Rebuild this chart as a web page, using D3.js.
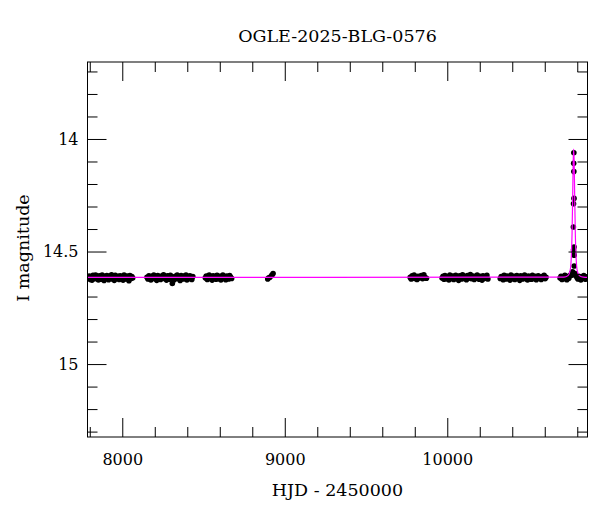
<!DOCTYPE html>
<html><head><meta charset="utf-8">
<script src="https://cdn.jsdelivr.net/npm/d3@7"></script>
<style>
html,body{margin:0;padding:0;background:#fff;}
svg{display:block;}
text{font-family:"DejaVu Serif",serif;fill:#000;}
</style></head>
<body>
<svg id="chart" width="600" height="512"></svg>
<script>
// ---- Data (HJD - 2450000, I magnitude) ----
const title = "OGLE-2025-BLG-0576";
const xLabel = "HJD - 2450000";
const yLabel = "I magnitude";
const xMajorTicks = [8000, 9000, 10000];
const yMajorTicks = [14, 14.5, 15];

const s1T = [7792,7797,7803,7808,7814,7820,7825,7831,7836,7842,7848,7853,7859,7865,7870,7876,7882,7888,7893,7899,7905,7911,7916,7922,7928,7934,7940,7946,7951,7957,7963,7969,7975,7981,7987,7993,7999,8005,8011,8017,8023,8029,8035,8041,8047,8053,8059,8064];
const s1M = [14.618,14.609,14.624,14.612,14.627,14.606,14.616,14.621,14.604,14.619,14.611,14.626,14.608,14.617,14.623,14.605,14.614,14.629,14.61,14.62,14.607,14.615,14.625,14.609,14.618,14.603,14.622,14.613,14.628,14.606,14.616,14.62,14.61,14.624,14.608,14.619,14.612,14.627,14.605,14.617,14.622,14.609,14.614,14.63,14.607,14.62,14.611,14.618];

const s2T = [8152,8158,8164,8170,8176,8182,8188,8194,8200,8206,8212,8218,8224,8230,8236,8242,8248,8254,8260,8266,8272,8278,8284,8290,8296,8302,8308,8314,8320,8326,8332,8338,8344,8350,8356,8362,8368,8374,8380,8386,8392,8398,8404,8410,8416,8422,8428,8434];
const s2M = [14.614,14.622,14.608,14.619,14.626,14.61,14.616,14.605,14.621,14.613,14.628,14.607,14.618,14.611,14.624,14.609,14.617,14.603,14.62,14.615,14.627,14.608,14.612,14.623,14.606,14.619,14.642,14.614,14.625,14.61,14.617,14.604,14.621,14.612,14.629,14.607,14.616,14.622,14.609,14.618,14.605,14.626,14.613,14.62,14.608,14.617,14.624,14.611];

const s3T = [8511,8517,8523,8529,8535,8541,8547,8553,8559,8565,8571,8577,8583,8589,8595,8601,8607,8613,8619,8625,8631,8637,8643,8649,8655,8661,8667,8673];
const s3M = [14.617,14.609,14.624,14.612,14.604,14.62,14.614,14.627,14.608,14.618,14.611,14.623,14.606,14.616,14.621,14.61,14.626,14.613,14.605,14.619,14.612,14.625,14.609,14.617,14.622,14.607,14.615,14.62];

const s4T = [8895,8900,8908,8920,8928];
const s4M = [14.622,14.618,14.614,14.606,14.598];

const s5T = [9772,9778,9784,9790,9796,9802,9808,9814,9820,9826,9832,9840,9848,9856,9864,9872];
const s5M = [14.615,14.622,14.608,14.617,14.605,14.62,14.612,14.624,14.61,14.618,14.614,14.607,14.621,14.603,14.616,14.619];

const s6T = [9968,9974,9980,9986,9992,9998,10004,10010,10016,10022,10028,10034,10040,10046,10052,10058,10064,10070,10076,10082,10088,10094,10100,10106,10112,10118,10124,10130,10136,10142,10148,10154,10160,10166,10172,10178,10184,10190,10196,10202,10208,10214,10220,10226,10232,10238,10244,10250];
const s6M = [14.618,14.61,14.623,14.607,14.615,14.621,14.612,14.626,14.604,14.617,14.62,14.609,14.624,14.613,14.606,14.619,14.615,14.628,14.608,14.616,14.622,14.603,14.614,14.62,14.611,14.625,14.607,14.618,14.613,14.602,14.621,14.616,14.609,14.624,14.612,14.619,14.605,14.617,14.623,14.61,14.614,14.627,14.608,14.62,14.612,14.618,14.606,14.622];

const s7T = [10326,10332,10338,10344,10350,10356,10362,10368,10374,10380,10386,10392,10398,10404,10410,10416,10422,10428,10434,10440,10446,10452,10458,10464,10470,10476,10482,10488,10494,10500,10506,10512,10518,10524,10530,10536,10542,10548,10554,10560,10566,10572,10578,10584,10590,10596,10602,10608];
const s7M = [14.62,14.611,14.617,14.625,14.606,14.615,14.622,14.609,14.618,14.613,14.627,14.604,14.616,14.621,14.61,14.624,14.612,14.607,14.619,14.615,14.628,14.608,14.617,14.622,14.611,14.605,14.62,14.614,14.626,14.609,14.618,14.612,14.623,14.606,14.616,14.621,14.61,14.625,14.613,14.608,14.619,14.615,14.624,14.611,14.617,14.606,14.621,14.614];

const s8T = [10694,10700,10706,10712,10718,10724,10730,10736,10742,10748,10754,10760,10766,10771,10786,10792,10798,10804,10810,10816,10822,10828,10834,10840,10846,10852,10858];
const s8M = [14.618,14.61,14.624,14.613,14.621,14.606,14.617,14.625,14.611,14.619,14.608,14.603,14.596,14.59,14.598,14.606,14.615,14.622,14.61,14.618,14.626,14.612,14.62,14.607,14.616,14.623,14.613];

const peakT = [10779,10778,10779,10780,10777,10776,10780,10777,10781,10781,10772,10768];
const peakM = [14.061,14.108,14.145,14.264,14.288,14.391,14.48,14.493,14.516,14.564,14.595,14.605];

// model curve
const modelT = [7786,10718,10743,10756,10763,10768,10772,10775,10778,10781,10784,10788,10793,10800,10813,10838,10863];
const modelM = [14.615,14.614,14.607,14.585,14.53,14.42,14.25,14.10,14.045,14.10,14.25,14.42,14.53,14.585,14.607,14.614,14.615];

// ---- Build ----
const seasonsT = [s1T,s2T,s3T,s4T,s5T,s6T,s7T,s8T,peakT];
const seasonsM = [s1M,s2M,s3M,s4M,s5M,s6M,s7M,s8M,peakM];
const points = [];
seasonsT.forEach((ts,i)=>ts.forEach((t,j)=>points.push({t, m: seasonsM[i][j]})));
const model = modelT.map((t,i)=>({t, m: modelM[i]}));

const L = 87.5, R = 587.5, T = 62, B = 437;
const svg = d3.select("#chart");
const x = d3.scaleLinear().domain([7786, 10863]).range([L, R]);
const y = d3.scaleLinear().domain([13.658, 15.324]).range([T, B]);

svg.append("clipPath").attr("id","clip").append("rect")
  .attr("x",L).attr("y",T).attr("width",R-L).attr("height",B-T);

const plot = svg.append("g").attr("clip-path","url(#clip)");
plot.selectAll("circle").data(points).join("circle")
  .attr("cx", d=>x(d.t)).attr("cy", d=>y(d.m)).attr("r", 2.8).attr("fill","#000");

plot.append("path").datum(model)
  .attr("d", d3.line().x(d=>x(d.t)).y(d=>y(d.m)).curve(d3.curveMonotoneX))
  .attr("fill","none").attr("stroke","#ff00ff").attr("stroke-width",1.2);

// axes
const xMinor = d3.range(7800, 10864, 200).filter(v=>!xMajorTicks.includes(v));
const yMinor = d3.range(137, 154).map(v=>v/10).filter(v=>!yMajorTicks.includes(v));
const fmt = d=>String(d);
function styleAxis(g){ g.select(".domain").remove(); g.selectAll("line").attr("stroke","#000"); g.selectAll("text").attr("font-family","DejaVu Serif").attr("font-size",16); }

svg.append("g").attr("transform",`translate(0,${B})`).call(d3.axisBottom(x).tickValues(xMinor).tickSize(-10).tickFormat("")).call(styleAxis);
svg.append("g").attr("transform",`translate(0,${B})`).call(d3.axisBottom(x).tickValues(xMajorTicks).tickSize(-19).tickPadding(17).tickFormat(fmt)).call(styleAxis);
svg.append("g").attr("transform",`translate(0,${T})`).call(d3.axisTop(x).tickValues(xMinor).tickSize(-10).tickFormat("")).call(styleAxis);
svg.append("g").attr("transform",`translate(0,${T})`).call(d3.axisTop(x).tickValues(xMajorTicks).tickSize(-19).tickFormat("")).call(styleAxis);

svg.append("g").attr("transform",`translate(${L},0)`).call(d3.axisLeft(y).tickValues(yMinor).tickSize(-10).tickFormat("")).call(styleAxis);
svg.append("g").attr("transform",`translate(${L},0)`).call(d3.axisLeft(y).tickValues(yMajorTicks).tickSize(-19).tickPadding(9).tickFormat(fmt)).call(styleAxis);
svg.append("g").attr("transform",`translate(${R},0)`).call(d3.axisRight(y).tickValues(yMinor).tickSize(-10).tickFormat("")).call(styleAxis);
svg.append("g").attr("transform",`translate(${R},0)`).call(d3.axisRight(y).tickValues(yMajorTicks).tickSize(-19).tickFormat("")).call(styleAxis);

svg.append("rect").attr("x",L).attr("y",T).attr("width",R-L).attr("height",B-T)
  .attr("fill","none").attr("stroke","#000").attr("stroke-width",1);

svg.append("text").attr("x",(L+R)/2).attr("y",42).attr("text-anchor","middle").attr("font-size",17.5).text(title);
svg.append("text").attr("x",(L+R)/2).attr("y",496).attr("text-anchor","middle").attr("font-size",17.5).text(xLabel);
svg.append("text").attr("transform",`translate(29,248) rotate(-90)`).attr("text-anchor","middle").attr("font-size",17.5).text(yLabel);
</script>
</body></html>
